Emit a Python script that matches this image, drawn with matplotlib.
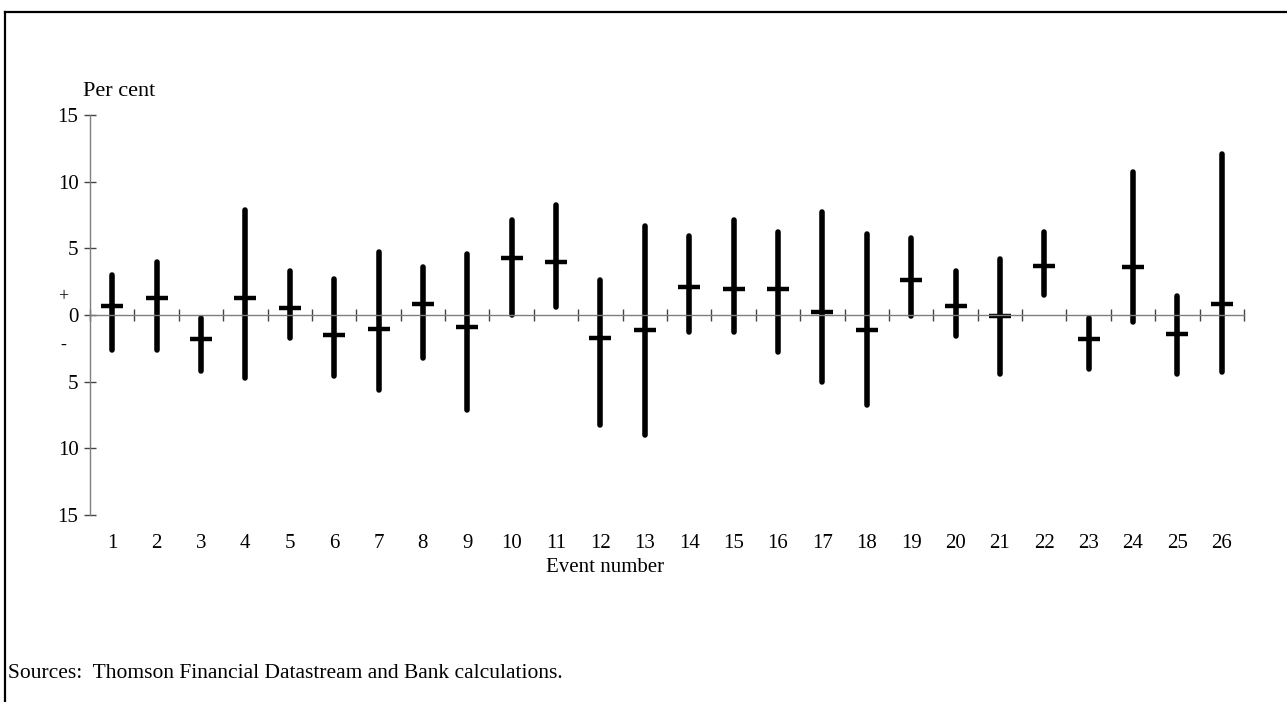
#!/usr/bin/env python3
# -*- coding: utf-8 -*-
"""
Event ranges: high / low / mean per event, per cent
"""

import matplotlib
matplotlib.use('Agg')
import matplotlib.pyplot as plt
from matplotlib.lines import Line2D
from matplotlib.transforms import blended_transform_factory

plt.rcParams['font.family'] = ['Liberation Serif', 'DejaVu Serif']

events = list(range(1, 27))
highs = [3.0, 4.0, -0.2, 7.9, 3.3, 2.7, 4.75, 3.6, 4.6, 7.1, 8.25, 2.6, 6.7,
         5.9, 7.1, 6.2, 7.7, 6.05, 5.75, 3.3, 4.2, 6.2, -0.2, 10.7, 1.4, 12.1]
lows = [-2.6, -2.6, -4.2, -4.75, -1.7, -4.6, -5.6, -3.2, -7.1, 0.0, 0.6, -8.25, -9.0,
        -1.3, -1.3, -2.75, -5.05, -6.75, -0.1, -1.55, -4.4, 1.5, -4.05, -0.55, -4.4, -4.3]
means = [0.7, 1.25, -1.8, 1.25, 0.55, -1.5, -1.05, 0.8, -0.9, 4.3, 4.0, -1.7, -1.1,
         2.1, 1.95, 1.95, 0.25, -1.1, 2.6, 0.7, -0.05, 3.7, -1.8, 3.6, -1.4, 0.8]
ytick_vals = [-15, -10, -5, 0, 5, 10, 15]
ytick_labels = ['15', '10', '5', '0', '5', '10', '15']

FS = 15
AXIS_GREY = '#7f7f7f'

fig = plt.figure(figsize=(12.87, 7.02), dpi=100)
ax = fig.add_axes([90 / 1287, (702 - 515) / 702, 1154 / 1287, 400 / 702])

# range bars and mean dashes
bars = ax.vlines(events, lows, highs, colors='black', linewidth=4.0)
bars.set_capstyle('round')
ax.plot(events, means, linestyle='none', marker='_', markersize=16,
        markeredgewidth=3.2, color='black')

ax.set_xlim(0.5, 26.5)
ax.set_ylim(-15, 15)

for s in ['top', 'right']:
    ax.spines[s].set_visible(False)
ax.spines['left'].set_color(AXIS_GREY)
ax.spines['left'].set_linewidth(1.0)
ax.spines['bottom'].set_position(('data', 0))
ax.spines['bottom'].set_color(AXIS_GREY)
ax.spines['bottom'].set_linewidth(1.0)

ax.set_xticks([e - 0.5 for e in events] + [26.5])
ax.tick_params(axis='x', direction='inout', length=8, width=1.0,
               colors='#444444', labelbottom=False)
ax.set_yticks(ytick_vals)
ax.set_yticklabels(ytick_labels)
ax.tick_params(axis='y', direction='inout', length=8.5, width=1.0,
               colors='#444444', labelcolor='black', labelsize=FS, pad=4)

# event numbers under the plot
trans = blended_transform_factory(ax.transData, ax.transAxes)
for e in events:
    ax.text(e, -0.07, str(e), transform=trans, ha='center', va='center',
            fontsize=FS)

ax.text(-0.0234, 1.35, '+', transform=blended_transform_factory(ax.transAxes, ax.transData),
        ha='center', va='center', fontsize=FS - 2)
ax.text(-0.0234, -2.3, '-', transform=blended_transform_factory(ax.transAxes, ax.transData),
        ha='center', va='center', fontsize=FS - 2)

fig.text(83 / 1287, 1 - 92 / 702, 'Per cent', ha='left', va='center', fontsize=FS + 1)
fig.text(605 / 1287, 1 - 568 / 702, 'Event number', ha='center', va='center', fontsize=FS)
fig.text(8 / 1287, 1 - 673 / 702, 'Sources:  Thomson Financial Datastream and Bank calculations.',
         ha='left', va='center', fontsize=FS + 0.5)

# frame (left and top edges visible in the crop)
fig.add_artist(Line2D([5 / 1287, 5 / 1287], [0, 1 - 12 / 702], color='black', linewidth=1.6))
fig.add_artist(Line2D([5 / 1287, 1], [1 - 12 / 702, 1 - 12 / 702], color='black', linewidth=1.6))

fig.savefig('out.png', dpi=100)
